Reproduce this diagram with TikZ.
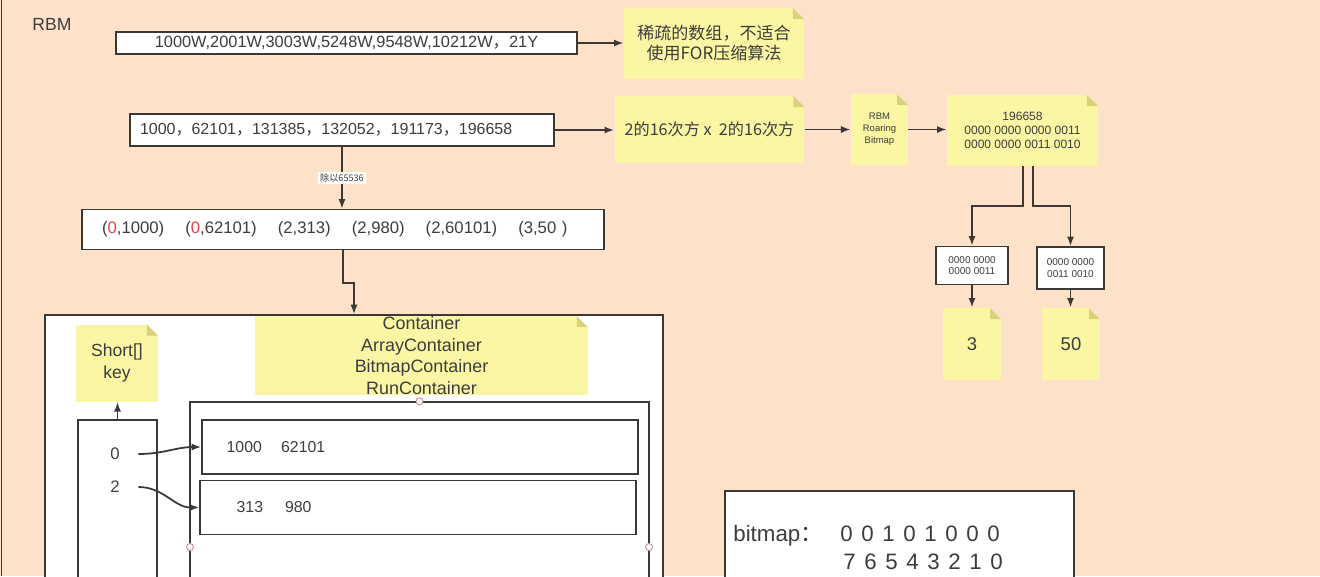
\documentclass[tikz,border=0pt]{standalone}
\usepackage{fontspec}
\setmainfont{Liberation Sans}
\newfontfamily\cjk{Noto Sans CJK SC}
\usepackage{xcolor}
\usepackage{tikz}
\usetikzlibrary{arrows.meta}
\definecolor{pageBg}{HTML}{FDE1C9}
\definecolor{noteYellow}{HTML}{FAF6A3}
\definecolor{noteFold}{HTML}{D8D27B}
\definecolor{lineColor}{HTML}{3E3834}
\definecolor{textColor}{HTML}{3D3D3D}
\definecolor{keyRed}{HTML}{E8404A}
\definecolor{connPink}{HTML}{C98A8E}

\begin{document}
\begin{tikzpicture}[x=0.02cm, y=-0.02cm,
    box/.style={draw=lineColor, line width=0.8pt, fill=white, inner sep=0pt, text=textColor},
    foldcorner/.code={\def\foldbg{#1}},
    note/.style={fill=noteYellow, inner sep=0pt, align=center, text=textColor, foldcorner=pageBg,
        path picture={
            \fill[\foldbg] ([xshift=-0.22cm]path picture bounding box.north east) -- (path picture bounding box.north east)
                -- ([yshift=-0.22cm]path picture bounding box.north east) -- cycle;
            \fill[noteFold] ([xshift=-0.22cm]path picture bounding box.north east)
                -- ([xshift=-0.22cm, yshift=-0.22cm]path picture bounding box.north east)
                -- ([yshift=-0.22cm]path picture bounding box.north east) -- cycle;
        }},
    link/.style={draw=lineColor, line width=1pt, -{Latex[length=5.5pt, width=4pt]}},
    conn/.style={circle, draw=connPink, fill=white, inner sep=0pt, minimum size=4pt, line width=0.5pt},
]
    \useasboundingbox (0,0) rectangle (1320,576);
    \clip (0,0) rectangle (1320,576);
    \fill[pageBg] (0,0) rectangle (1320,576);
    \draw[lineColor, line width=1pt] (1.5,0) -- (1.5,576);

    \node[text=textColor, font=\fontsize{10}{12}\selectfont] (title) at (52,24) {RBM};

    \node[box, minimum width=9.22cm, minimum height=0.44cm, font=\fontsize{9.3}{11}\selectfont] (raw) at (346.5,43)
        {1000W,2001W,3003W,5248W,9548W,10212W{\cjk ，}21Y};
    \node[note, minimum width=3.6cm, minimum height=1.42cm, font=\cjk\fontsize{9.7}{11.4}\selectfont] (sparse) at (714,43.5)
        {稀疏的数组，不适合\\使用FOR压缩算法};
    \draw[link] (raw.east) -- (raw.east -| sparse.west);

    \node[box, minimum width=8.48cm, minimum height=0.64cm, text width=8.08cm, inner xsep=0.2cm, align=left,
        font=\fontsize{9.1}{11}\selectfont] (values) at (342,130)
        {1000{\cjk ，}62101{\cjk ，}131385{\cjk ，}132052{\cjk ，}191173{\cjk ，}196658};
    \node[note, minimum width=3.8cm, minimum height=1.34cm, font=\cjk\fontsize{9.2}{11}\selectfont] (space) at (709.5,129.5)
        {2的16次方 x\ \ 2的16次方};
    \node[note, minimum width=1.14cm, minimum height=1.42cm, font=\fontsize{5.4}{6.8}\selectfont] (rbm) at (879.5,129.5)
        {RBM\\Roaring\\Bitmap};
    \node[note, minimum width=3.02cm, minimum height=1.42cm, font=\fontsize{6.85}{8}\selectfont] (split) at (1022.5,130.5)
        {196658\\0000 0000 0000 0011\\0000 0000 0011 0010};
    \draw[link] (values.east) -- (values.east -| space.west);
    \draw[link] (space.east) -- (space.east -| rbm.west);
    \draw[link] (rbm.east) -- (rbm.east -| split.west);

    \node[box, minimum width=1.44cm, minimum height=0.76cm, align=center, font=\fontsize{5.7}{6.4}\selectfont] (high) at (972,265.5)
        {0000 0000\\0000 0011};
    \node[box, minimum width=1.34cm, minimum height=0.84cm, align=center, font=\fontsize{5.7}{6.4}\selectfont] (low) at (1070.5,268)
        {0000 0000\\0011 0010};
    \node[note, minimum width=1.16cm, minimum height=1.44cm, font=\fontsize{10.5}{12}\selectfont] (three) at (972,344) {3};
    \node[note, minimum width=1.16cm, minimum height=1.44cm, font=\fontsize{10.5}{12}\selectfont] (fifty) at (1071,344) {50};
    \draw[link] ([xshift=0.01cm]split.south) -- ++(0,40) -| (high.north);
    \draw[link] ([xshift=0.21cm]split.south) -- ++(0,40) -| (low.north);
    \draw[link] (high.south) -- (high.south |- three.north);
    \draw[link] (low.south) -- (low.south |- fifty.north);

    \node[box, minimum width=10.44cm, minimum height=0.8cm, text width=9.64cm, inner xsep=0.4cm, align=left,
        font=\fontsize{9.5}{11}\selectfont] (pairs) at (343,229.5)
        {(\textcolor{keyRed}{0},1000)\hspace{12pt}(\textcolor{keyRed}{0},62101)\hspace{12pt}(2,313)\hspace{12pt}(2,980)\hspace{12pt}(2,60101)\hspace{12pt}(3,50 )};
    \draw[link] (values.south) -- (values.south |- pairs.north)
        node[midway, fill=white, inner sep=1pt, text=textColor, font=\cjk\fontsize{5.2}{6}\selectfont] (divide) {除以65536};

    \node[box, minimum width=12.36cm, minimum height=5.7cm] (panel) at (354,457.5) {};
    \draw[link] (pairs.south) -- ++(0,33) -| (panel.north);

    \node[note, foldcorner=white, minimum width=1.64cm, minimum height=1.54cm, font=\fontsize{10}{12.2}\selectfont] (keynote) at (117,363)
        {Short[]\\key};
    \node[note, foldcorner=white, minimum width=6.66cm, minimum height=1.56cm, font=\fontsize{10.2}{12.4}\selectfont] (types) at (421.5,355.5)
        {Container\\ArrayContainer\\BitmapContainer\\RunContainer};

    \node[box, minimum width=1.58cm, minimum height=3.6cm] (keys) at (117.5,510) {};
    \node[box, minimum width=9.18cm, minimum height=3.96cm] (store) at (419.5,501) {};
    \node[box, minimum width=8.72cm, minimum height=1.08cm] (chunk0) at (420,447) {};
    \node[box, minimum width=8.72cm, minimum height=1.08cm] (chunk2) at (418,507.5) {};
    \node[anchor=west, inner sep=0pt, text=textColor, font=\fontsize{9}{11}\selectfont] (vals0) at ([xshift=0.5cm]chunk0.west)
        {1000\hspace{11pt}62101};
    \node[anchor=west, inner sep=0pt, text=textColor, font=\fontsize{9}{11}\selectfont] (vals2) at ([xshift=0.74cm]chunk2.west)
        {313\hspace{12.5pt}980};
    \draw[link] (keys.north) -- (keys.north |- keynote.south);

    \node[inner sep=0pt, text=textColor, font=\fontsize{9.5}{11}\selectfont] (k0) at (115,454) {0};
    \node[inner sep=0pt, text=textColor, font=\fontsize{9.5}{11}\selectfont] (k2) at (115,487) {2};
    \draw[link] ([xshift=0.37cm]k0.east) to[out=0, in=180] (chunk0.west);
    \draw[link] ([xshift=0.37cm]k2.east) to[out=0, in=180] (chunk2.west);

    \node[conn] (connTop) at (store.north) {};
    \node[conn] (connLeft) at (190,547) {};
    \node[conn] (connRight) at (649,547) {};

    \node[box, minimum width=6.98cm, minimum height=2.18cm] (bitmap) at (899.5,545.5) {};
    \node[anchor=base west, inner sep=0pt, text=textColor, font=\fontsize{12.7}{15}\selectfont] (bmlabel) at (733,541)
        {bitmap{\cjk ：}};
    \foreach \b [count=\i from 0] in {0,0,1,0,1,0,0,0}
        \node[anchor=base, inner sep=0pt, text=textColor, font=\fontsize{12.7}{15}\selectfont] (bit\i) at (846.5+21*\i,541) {\b};
    \foreach \b [count=\i from 0] in {7,6,5,4,3,2,1,0}
        \node[anchor=base, inner sep=0pt, text=textColor, font=\fontsize{12.7}{15}\selectfont] (idx\i) at (849.5+21*\i,569) {\b};
\end{tikzpicture}
\end{document}
